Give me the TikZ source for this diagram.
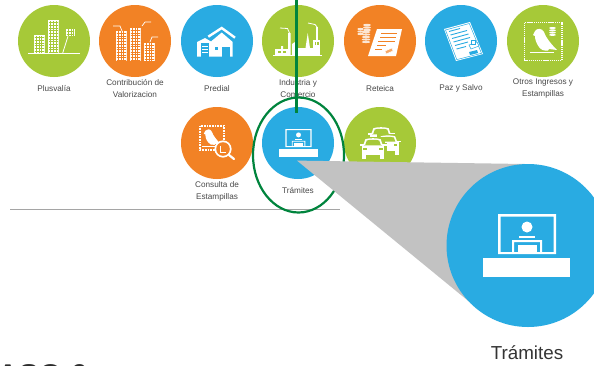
\documentclass[tikz,border=0pt]{standalone}
\usepackage{fontspec}
\setmainfont{Liberation Sans}
\definecolor{cgreen}{HTML}{A6C938}
\definecolor{corange}{HTML}{F28225}
\definecolor{cblue}{HTML}{29ABE2}
\definecolor{cdark}{HTML}{00843D}
\definecolor{cgray}{HTML}{C2C2C2}
\definecolor{ctext}{HTML}{4A4A4A}
\tikzset{
  badge/.style={circle,draw=none,minimum size=72pt,inner sep=0pt},
  caption/.style={text=ctext,align=center,inner sep=0pt,font=\fontsize{8.2}{12}\selectfont},
  wl/.style={white,line width=0.8pt},
}
% grid block building
\newcommand\tower[5]{%
  \fill[white] (#1,#2) rectangle (#3,#4);
  \begin{scope}
    \clip ({#1+.9},{#2+.9}) rectangle ({#3-.9},{#4-.9});
    \foreach \k in {1,...,12} {
      \draw[#5,line width=.45pt] ({#1+\k*2.7-.4},#2) -- ({#1+\k*2.7-.4},#4);
      \draw[#5,line width=.55pt] (#1,{#2+\k*2.7-.4}) -- (#3,{#2+\k*2.7-.4});
    }
    \foreach \k in {13,...,24}
      \draw[#5,line width=.55pt] (#1,{#2+\k*2.7-.4}) -- (#3,{#2+\k*2.7-.4});
  \end{scope}
}
% desk icon
\newcommand\deskicon[3]{%
  \begin{scope}[shift={(#1,#2)},scale=#3]
    \fill[white,even odd rule] (-29,-31) rectangle (29,9) (-26.5,-28.5) rectangle (26.5,7);
    \fill[white] (-44,13) rectangle (43,32);
    \fill[white] (0,-18) circle (5.5);
    \fill[white] (-8,-9.5) rectangle (8,-7.5);
    \fill[white,even odd rule] (-15,-5) rectangle (15,8) (-13,-3) rectangle (13,8);
    \fill[white] (-9.5,0) rectangle (9.5,8);
  \end{scope}}
% bird
\newcommand\birdshape{%
  \fill[white] (-10,-6) -- (-8,-10) .. controls (-6,-13) and (-1,-13) .. (1,-9)
     .. controls (3,-3) and (9,4) .. (14,9) -- (6,8) -- (5,9.5) .. controls (1,10) and (-2,9) .. (-4,6)
     .. controls (-7,2) and (-8,-2) .. (-8,-5) -- cycle;
  \fill[white] (-13,10.8) rectangle (11,12.4);
}
% car: halo, roof frame with window, mirrors, body with lamps, wheels
\newcommand\carshape[3]{%
  \begin{scope}[shift={(#1,#2)},scale=#3]
    \fill[cgreen] (-13,-14.5) rectangle (13,10.5);
    \fill[cgreen] (-16,-8) rectangle (16,6);
    \fill[white] (-11,-5) -- (-8.5,-12) .. controls (-4,-13.5) and (4,-13.5) .. (8.5,-12) -- (11,-5) -- cycle;
    \fill[cgreen] (-8.6,-5.8) -- (-6.9,-10.6) .. controls (-3,-11.6) and (3,-11.6) .. (6.9,-10.6) -- (8.6,-5.8) -- cycle;
    \fill[white] (-15,-7) rectangle (-10,-4.8);
    \fill[white] (10,-7) rectangle (15,-4.8);
    \fill[white] (-12.5,-5) rectangle (12.5,5);
    \fill[white] (-12.5,4) rectangle (-8,9.5);
    \fill[white] (8,4) rectangle (12.5,9.5);
    \fill[cgreen] (-11,-2.5) rectangle (-6.5,-.5);
    \fill[cgreen] (6.5,-2.5) rectangle (11,-.5);
  \end{scope}}
\begin{document}
\begin{tikzpicture}[x=1pt,y=-1pt]
\useasboundingbox (0,0) rectangle (594,365);
\fill[white] (0,0) rectangle (594,365);

% badges
\node[badge,fill=cgreen]  (plus) at (54,41) {};
\node[badge,fill=corange] (cont) at (135,41) {};
\node[badge,fill=cblue]   (pred) at (217,41) {};
\node[badge,fill=cgreen]  (indu) at (298,41) {};
\node[badge,fill=corange] (rete) at (380,41) {};
\node[badge,fill=cblue]   (pazs) at (461,41) {};
\node[badge,fill=cgreen]  (otro) at (543,41) {};
\node[badge,fill=corange] (cons) at (217,143) {};
\node[badge,fill=cblue]   (tram) at (298,143) {};
\node[badge,fill=cgreen]  (cars) at (380,143) {};

% captions
\node[caption] (lplus) at (54,88.8) {Plusvalía};
\node[caption] (lcont) at (135,88.7) {Contribución de\\Valorizacion};
\node[caption] (lpred) at (217,88.8) {Predial};
\node[caption] (lindu) at (298,88.7) {Industria y\\Comercio};
\node[caption] (lrete) at (380,88.8) {Reteica};
\node[caption] (lpazs) at (461,88.8) {Paz y Salvo};
\node[caption] (lotro) at (543,88.7) {Otros Ingresos y\\Estampillas};
\node[caption] (lcons) at (217,191) {Consulta de\\Estampillas};
\node[caption] (ltram) at (298,190.5) {Trámites};

% Plusvalia icon
\begin{scope}[shift={(plus)}]
  \draw[white,line width=1pt] (-26,12.7) -- (26,12.7);
  \tower{-20}{-5.7}{-9}{12}{cgreen}
  \tower{-5.7}{-20.7}{5}{12}{cgreen}
  \tower{12}{-12}{21}{-5}{cgreen}
  \draw[wl] (14,-4.7) -- (8.7,12);
\end{scope}
% Contribucion icon
\begin{scope}[shift={(cont)}]
  \tower{-19}{-10}{-8}{20}{corange}
  \tower{-5}{-13}{6}{20}{corange}
  \tower{9}{2}{20}{20}{corange}
  \draw[white,line width=.7pt] (-22,-15) -- (-15,-15) -- (-13,-10);
  \draw[white,line width=.7pt] (16,-19) -- (10,-19) -- (7,-15);
  \draw[white,line width=.7pt] (23,-4) -- (17,-4) -- (15,1);
\end{scope}
% Predial icon
\begin{scope}[shift={(pred)}]
  \fill[white] (-20,15.7) -- (-20,1) -- (-12,-3) -- (-6,0.5) -- (4.7,-8.5) -- (15.7,1) -- (15.7,15.7) -- cycle;
  \draw[white,line width=2.4pt] (-8.7,-4.3) -- (4.7,-13) -- (18,-3.3);
  \fill[cblue] (-16,2) rectangle (-8,15.7);
  \foreach \yy in {4.5,7.5,10.5} \fill[white] (-15,\yy) rectangle (-9,\yy+1.5);
  \fill[cblue] (-2,5.7) rectangle (1.3,9);
  \fill[cblue] (4.7,5.7) rectangle (13,15.7);
\end{scope}
% Industria icon
\begin{scope}[shift={(indu)}]
  \fill[white] (-23,14) -- (-23,8) -- (-17,8) -- (-17,5) -- (-15,5) -- (-15,8) -- (-10,8) -- (-10,-8) -- (-7.5,-8) -- (-7.5,14) -- cycle;
  \fill[cgreen] (-20,10) rectangle (-17,12);
  \fill[cgreen] (-15,10) rectangle (-12,12);
  \fill[white] (-6,14) -- (-6,3) -- (-3,1) -- (-3,14) -- cycle;
  \fill[white] (0,7) rectangle (22,14);
  \fill[white] (7.5,7) -- (9,-3) -- (9.7,-8) -- (10.5,-3) -- (12,7) -- cycle;
  \fill[white] (15,-1) rectangle (22,7);
  \fill[cgreen] (16.5,1) rectangle (18,4);
  \fill[cgreen] (19.3,1) rectangle (20.8,4);
  \fill[white] (18,-14) rectangle (20,-1);
  \draw[white,line width=1pt] (-25,14.5) -- (24,14.5);
  \draw[white,line width=.8pt] (-18,-13) -- (-10.5,-12.5) -- (-8.5,-8);
  \draw[white,line width=.8pt] (10,-18) -- (17,-16.5) -- (19,-14);
\end{scope}
% Reteica icon
\begin{scope}[shift={(rete)}]
  \fill[white] (-3,-12) -- (22,-12) -- (16,15) -- (-12,15) -- cycle;
  \foreach \yy/\xa/\xb in {-8/1/17,-4/0/16,0/-2/15,4/-3/6,8/-5/2}
    \draw[corange,line width=.9pt] (\xa,\yy) -- (\xb,\yy);
  \fill[corange!70!white,draw=white,line width=.5pt] (5,10) -- (12,7) -- (13,10) -- (6,13) -- cycle;
  \foreach \yy in {-16,-13.5,-11} \fill[white!80!corange] (-13,\yy) ellipse (4 and 1.2);
  \foreach \yy in {-9,-6.5,-4,-1.5,1} \fill[white!80!corange] (-14,\yy) ellipse (4.3 and 1.1);
  \foreach \yy in {-12,-9.5,-7} \fill[white!80!corange] (-19.5,\yy) ellipse (3.2 and 1.1);
\end{scope}
% Paz y Salvo icon
\begin{scope}[shift={(pazs)}]
  \fill[white] (-17,-12) -- (9,-19) -- (22,13) -- (-5,20) -- cycle;
  \draw[cblue,line width=.5pt] (-15.5,-11) -- (8.3,-17.5) -- (20.5,12.3) -- (-4.2,18.6) -- cycle;
  \draw[cblue,line width=.9pt] (-12,-9.5) -- (-1,-12.5);
  \draw[cblue,line width=.9pt] (-10.5,-6) -- (6,-10.5);
  \draw[cblue,line width=.9pt] (-9,-2.5) -- (7.5,-7);
  \draw[cblue,line width=.9pt] (-7.5,1) -- (9,-3.5);
  \draw[cblue,line width=.9pt] (-6,4.5) -- (7,1);
  \draw[cblue,line width=.9pt] (-4.5,8) -- (5,5.5);
  \fill[white,draw=cblue,line width=.5pt] (8,4) -- (16,1) -- (18,5) -- (10,8) -- cycle;
  \fill[white,draw=cblue,line width=.5pt] (10,-1) rectangle (14,3);
  \fill[cblue] (8,11) -- (16,9) -- (17,12) -- (9,14) -- cycle;
\end{scope}
% Otros icon
\begin{scope}[shift={(otro)}]
  \draw[white,line width=1.7pt,dash pattern=on 1.3pt off .8pt] (-18.5,-18.5) rectangle (19,19.5);
  \birdshape
  \foreach \yy in {-13,-10.7,-8.4,-6.1} \fill[white] (9.5,\yy) ellipse (3.4 and 1);
\end{scope}
% Consulta icon
\begin{scope}[shift={(cons)}]
  \draw[white,line width=1.1pt,dash pattern=on 1pt off .6pt] (-17,-17) rectangle (7,7);
  \begin{scope}[shift={(-6,-5)},scale=.72] \birdshape \end{scope}
  \fill[white] (6,6) circle (8.6);
  \fill[corange] (6,6) circle (6.8);
  \draw[white,line width=.9pt] (3,3) -- (3,9) -- (9,9);
  \draw[white,line width=2.2pt,line cap=round] (12,12) -- (17,16);
\end{scope}
% Tramites icon
\deskicon{298.5}{143}{.45}
% Cars icon
\begin{scope}[shift={(cars)}]
  \carshape{1}{-4}{.9}
  \carshape{8}{3.5}{.85}
  \carshape{-7}{7}{.9}
\end{scope}

% rule
\coordinate (ruleL) at (10,209.5);
\coordinate (ruleR) at (340,209.5);
\draw[cgray!85!black,line width=.8pt] (ruleL) -- (ruleR);

% highlight ellipse and pointer line
\coordinate (pointTop) at (296.7,0);
\coordinate (pointEnd) at (296.7,113);
\draw[cdark,line width=2.2pt] (298.5,155) ellipse (45.5 and 57.5);
\draw[cdark,line width=2.6pt] (pointTop) -- (pointEnd);

% zoom wedge
\coordinate (apex) at (297,160.6);
\coordinate (wedgeA) at (525,164);
\coordinate (wedgeB) at (472,304);
\fill[cgray] (apex) -- (wedgeA) -- (wedgeB) -- cycle;

% big badge
\node[circle,fill=cblue,minimum size=163pt,inner sep=0pt] (big) at (528,245.5) {};
\deskicon{527}{245}{1}
\node[text=ctext!70!black,inner sep=0pt,font=\fontsize{18.8}{22}\selectfont] (lbig) at (527,352.5) {Trámites};

% cut-off heading
\node[anchor=base west,inner sep=0pt,text=ctext!60!black,font=\bfseries\fontsize{30}{36}\selectfont] (head) at (-3,385) {ASO 6};
\end{tikzpicture}
\end{document}
